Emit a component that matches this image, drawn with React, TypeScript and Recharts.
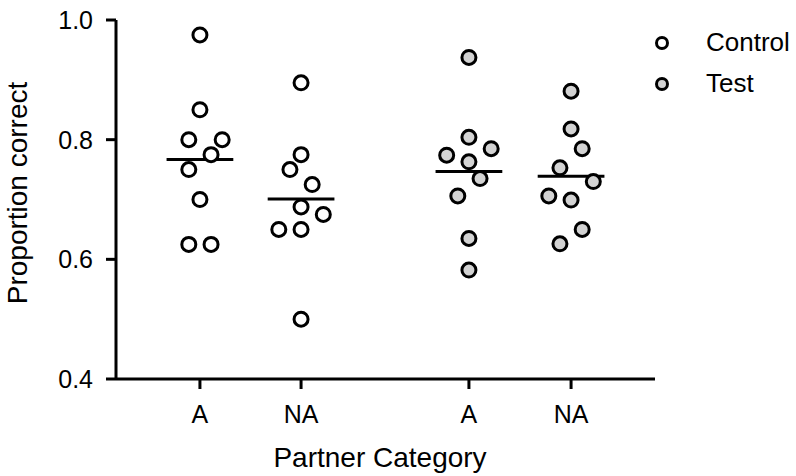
import { Label, Legend, ReferenceLine, Scatter, ScatterChart, XAxis, YAxis } from "recharts"

// x-axis groups (Control A, Control NA, Test A, Test NA)
const categories = ["A", "NA", "A", "NA"]
const categoryPos = [1, 2, 3.66, 4.67]

// proportion correct per animal
const controlA = [0.975, 0.85, 0.8, 0.8, 0.775, 0.75, 0.7, 0.625, 0.625]
const controlNA = [0.895, 0.775, 0.75, 0.725, 0.6875, 0.675, 0.65, 0.65, 0.5]
const testA = [0.9375, 0.804, 0.785, 0.774, 0.763, 0.735, 0.706, 0.635, 0.582]
const testNA = [0.881, 0.818, 0.785, 0.753, 0.73, 0.706, 0.699, 0.65, 0.626]

// horizontal jitter slot of each dot (so overlapping dots sit side by side)
const controlAJitter = [0, 0, -1, 2, 1, -1, 0, -1, 1]
const controlNAJitter = [0, 0, -1, 1, 0, 2, -2, 0, 0]
const testAJitter = [0, 0, 2, -2, 0, 1, -1, 0, 0]
const testNAJitter = [0, 0, 1, -1, 2, -2, 0, 1, -1]

const yTicks = [0.4, 0.6, 0.8, 1.0]

const FONT = "'Liberation Sans', Arial, Helvetica, sans-serif"
const JITTER_STEP = 0.11
const MEAN_HALF_WIDTH = 0.33

const toPoints = (values: number[], jitter: number[], pos: number) =>
  values.map((y, i) => ({ x: pos + jitter[i] * JITTER_STEP, y }))

const mean = (values: number[]) => values.reduce((a, b) => a + b, 0) / values.length

const controlData = [
  ...toPoints(controlA, controlAJitter, categoryPos[0]),
  ...toPoints(controlNA, controlNAJitter, categoryPos[1]),
]
const testData = [
  ...toPoints(testA, testAJitter, categoryPos[2]),
  ...toPoints(testNA, testNAJitter, categoryPos[3]),
]

const groups = [controlA, controlNA, testA, testNA]

const dot = (fill: string) => (props: any) =>
  <circle cx={props.cx} cy={props.cy} r={7} fill={fill} stroke="#000" strokeWidth={3} />

function LegendContent({ payload }: any) {
  return (
    <div style={{ fontFamily: FONT, fontSize: 26, color: "#000" }}>
      {(payload || []).map((entry: any) => (
        <div key={entry.value} style={{ display: "flex", alignItems: "center", height: 41 }}>
          <svg width={16} height={16}>
            <circle cx={8} cy={8} r={5.5} fill={entry.color} stroke="#000" strokeWidth={3} />
          </svg>
          <span style={{ marginLeft: 36 }}>{entry.value}</span>
        </div>
      ))}
    </div>
  )
}

export default function App() {
  return (
    <div style={{ position: "absolute", left: 0, top: 0, background: "#fff" }}>
      <ScatterChart width={796} height={476} margin={{ top: 20, right: 141, bottom: 7, left: 16 }}>
        <XAxis
          type="number"
          dataKey="x"
          domain={[0.17, 5.5]}
          allowDataOverflow
          ticks={categoryPos}
          interval={0}
          tickFormatter={(v: number) => categories[categoryPos.indexOf(v)] ?? ""}
          height={90}
          tickSize={10}
          tickMargin={16}
          axisLine={{ stroke: "#000", strokeWidth: 3 }}
          tickLine={{ stroke: "#000", strokeWidth: 3 }}
          tick={{ fill: "#000", fontSize: 25, fontFamily: FONT }}
        >
          <Label
            content={() => (
              <text x={380} y={467} textAnchor="middle" fontSize={28} fontFamily={FONT} fill="#000">
                Partner Category
              </text>
            )}
          />
        </XAxis>
        <YAxis
          type="number"
          dataKey="y"
          domain={[0.4, 1.0]}
          ticks={yTicks}
          interval={0}
          tickFormatter={(v: number) => v.toFixed(1)}
          width={100}
          tickSize={10}
          tickMargin={13}
          axisLine={{ stroke: "#000", strokeWidth: 3 }}
          tickLine={{ stroke: "#000", strokeWidth: 3 }}
          tick={{ fill: "#000", fontSize: 25, fontFamily: FONT }}
        >
          <Label
            content={() => (
              <text
                x={0}
                y={0}
                transform="translate(27,193) rotate(-90)"
                textAnchor="middle"
                fontSize={28}
                fontFamily={FONT}
                fill="#000"
              >
                Proportion correct
              </text>
            )}
          />
        </YAxis>
        <Legend
          layout="horizontal"
          verticalAlign="middle"
          align="center"
          content={<LegendContent />}
          wrapperStyle={{ position: "absolute", left: 654, top: 22, width: 140 }}
        />
        {groups.map((g, i) => (
          <ReferenceLine
            key={i}
            segment={[
              { x: categoryPos[i] - MEAN_HALF_WIDTH, y: mean(g) },
              { x: categoryPos[i] + MEAN_HALF_WIDTH, y: mean(g) },
            ]}
            stroke="#000"
            strokeWidth={3}
          />
        ))}
        <Scatter name="Control" data={controlData} fill="#ffffff" shape={dot("#ffffff")} isAnimationActive={false} />
        <Scatter name="Test" data={testData} fill="#d3d3d3" shape={dot("#d3d3d3")} isAnimationActive={false} />
      </ScatterChart>
    </div>
  )
}
